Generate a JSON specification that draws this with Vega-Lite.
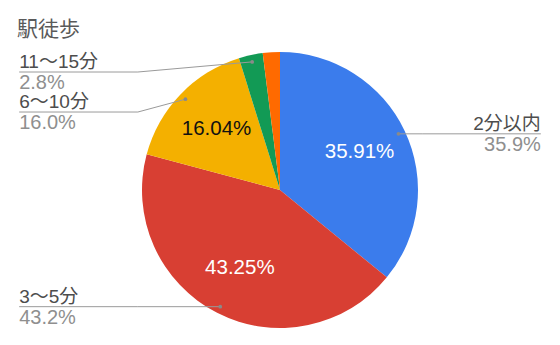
{
  "$schema": "https://vega.github.io/schema/vega-lite/v6.json",
  "width": 560,
  "height": 345,
  "padding": 0,
  "autosize": {"type": "none"},
  "background": "white",
  "config": {"view": {"stroke": null}, "font": "Liberation Sans, Noto Sans CJK JP"},
  "title": {"text": "駅徒歩", "anchor": "start", "frame": "group", "offset": 0, "baseline": "alphabetic", "dx": 17, "dy": 57, "fontSize": 21, "fontWeight": "normal", "color": "#5a5a5a", "font": "Noto Sans CJK JP"},
  "data": {"values": [
    {"i": 1, "cat": "2分以内", "value": 35.91},
    {"i": 2, "cat": "3〜5分", "value": 43.246},
    {"i": 3, "cat": "6〜10分", "value": 16.04},
    {"i": 4, "cat": "11〜15分", "value": 2.8},
    {"i": 5, "cat": "16分以上", "value": 2.004}
  ]},
  "transform": [
    {"window": [{"op": "sum", "field": "value", "as": "cum"}], "sort": [{"field": "i", "order": "ascending"}], "frame": [null, 0]},
    {"joinaggregate": [{"op": "sum", "field": "value", "as": "total"}]},
    {"calculate": "(datum.cum - datum.value / 2) / datum.total * 2 * PI", "as": "mid"},
    {"calculate": "0.95 * sin(datum.mid)", "as": "dotX"},
    {"calculate": "0.95 * cos(datum.mid)", "as": "dotY"},
    {"calculate": "datum.dotX > 0 ? 1 : -1", "as": "side"},
    {"calculate": "format(datum.value, '.1f') + '%'", "as": "share"},
    {"calculate": "datum.value > 5 ? format(datum.value, '.2f') + '%' : ''", "as": "inner"}
  ],
  "layer": [
    {
      "mark": {"type": "arc", "outerRadius": 138},
      "encoding": {
        "theta": {"field": "value", "type": "quantitative", "stack": true},
        "order": {"field": "i", "type": "quantitative"},
        "color": {"field": "cat", "type": "nominal", "legend": null,
          "scale": {"domain": ["2分以内", "3〜5分", "6〜10分", "11〜15分", "16分以上"],
                    "range": ["#3b7cec", "#d83f33", "#f4b000", "#129a55", "#ff6a00"]}},
        "x": {"datum": 0, "type": "quantitative", "axis": null, "scale": {"domain": [-2.029, 2.029], "nice": false, "zero": false}},
        "y": {"datum": 0, "type": "quantitative", "axis": null, "scale": {"domain": [-1.1232, 1.3768], "nice": false, "zero": false}}
      }
    },
    {
      "mark": {"type": "text", "radius": 88, "fontSize": 20.5, "font": "Liberation Sans"},
      "encoding": {
        "theta": {"field": "value", "type": "quantitative", "stack": true},
        "order": {"field": "i", "type": "quantitative"},
        "detail": {"field": "cat", "type": "nominal"},
        "text": {"field": "inner", "type": "nominal"},
        "color": {"condition": {"test": "datum.i == 3", "value": "#111111"}, "value": "#ffffff"},
        "x": {"datum": 0, "type": "quantitative", "axis": null, "scale": {"domain": [-2.029, 2.029], "nice": false, "zero": false}},
        "y": {"datum": 0, "type": "quantitative", "axis": null, "scale": {"domain": [-1.1232, 1.3768], "nice": false, "zero": false}}
      }
    },
    {
      "transform": [
        {"filter": "datum.value > 2.5"},
        {"window": [{"op": "row_number", "as": "r"}], "groupby": ["side"], "sort": [{"field": "dotY", "order": "descending"}]},
        {"calculate": "(datum.r == 1 ? min(datum.dotY, 0.855) : datum.dotY) + 0.29 * datum.r", "as": "w"},
        {"window": [{"op": "min", "field": "w", "as": "wm"}], "groupby": ["side"], "sort": [{"field": "dotY", "order": "descending"}], "frame": [null, 0]},
        {"calculate": "datum.wm - 0.29 * datum.r", "as": "lineY"},
        {"calculate": "1.03 * datum.side", "as": "elbowX"},
        {"calculate": "1.89 * datum.side", "as": "endX"}
      ],
      "layer": [
        {
          "mark": {"type": "rule", "color": "#9a9a9a", "strokeWidth": 1},
          "encoding": {
            "x": {"field": "dotX", "type": "quantitative", "axis": null, "scale": {"domain": [-2.029, 2.029], "nice": false, "zero": false}},
            "y": {"field": "dotY", "type": "quantitative", "axis": null, "scale": {"domain": [-1.1232, 1.3768], "nice": false, "zero": false}},
            "x2": {"field": "elbowX"},
            "y2": {"field": "lineY"}
          }
        },
        {
          "mark": {"type": "rule", "color": "#9a9a9a", "strokeWidth": 1},
          "encoding": {
            "x": {"field": "elbowX", "type": "quantitative", "axis": null, "scale": {"domain": [-2.029, 2.029], "nice": false, "zero": false}},
            "y": {"field": "lineY", "type": "quantitative", "axis": null, "scale": {"domain": [-1.1232, 1.3768], "nice": false, "zero": false}},
            "x2": {"field": "endX"},
            "y2": {"field": "lineY"}
          }
        },
        {
          "mark": {"type": "circle", "size": 14, "color": "#8a8a8a", "opacity": 1},
          "encoding": {
            "x": {"field": "dotX", "type": "quantitative", "axis": null, "scale": {"domain": [-2.029, 2.029], "nice": false, "zero": false}},
            "y": {"field": "dotY", "type": "quantitative", "axis": null, "scale": {"domain": [-1.1232, 1.3768], "nice": false, "zero": false}}
          }
        },
        {
          "transform": [{"filter": "datum.side < 0"}],
          "layer": [
            {
              "mark": {"type": "text", "align": "left", "baseline": "alphabetic", "dy": -4, "fontSize": 19, "color": "#4d4d4d"},
              "encoding": {
                "x": {"field": "endX", "type": "quantitative", "axis": null, "scale": {"domain": [-2.029, 2.029], "nice": false, "zero": false}},
                "y": {"field": "lineY", "type": "quantitative", "axis": null, "scale": {"domain": [-1.1232, 1.3768], "nice": false, "zero": false}},
                "text": {"field": "cat", "type": "nominal"}
              }
            },
            {
              "mark": {"type": "text", "align": "left", "baseline": "top", "dy": 1, "fontSize": 20, "color": "#8f8f8f"},
              "encoding": {
                "x": {"field": "endX", "type": "quantitative", "axis": null, "scale": {"domain": [-2.029, 2.029], "nice": false, "zero": false}},
                "y": {"field": "lineY", "type": "quantitative", "axis": null, "scale": {"domain": [-1.1232, 1.3768], "nice": false, "zero": false}},
                "text": {"field": "share", "type": "nominal"}
              }
            }
          ]
        },
        {
          "transform": [{"filter": "datum.side > 0"}],
          "layer": [
            {
              "mark": {"type": "text", "align": "right", "baseline": "alphabetic", "dy": -4, "fontSize": 19, "color": "#4d4d4d"},
              "encoding": {
                "x": {"field": "endX", "type": "quantitative", "axis": null, "scale": {"domain": [-2.029, 2.029], "nice": false, "zero": false}},
                "y": {"field": "lineY", "type": "quantitative", "axis": null, "scale": {"domain": [-1.1232, 1.3768], "nice": false, "zero": false}},
                "text": {"field": "cat", "type": "nominal"}
              }
            },
            {
              "mark": {"type": "text", "align": "right", "baseline": "top", "dy": 1, "fontSize": 20, "color": "#8f8f8f"},
              "encoding": {
                "x": {"field": "endX", "type": "quantitative", "axis": null, "scale": {"domain": [-2.029, 2.029], "nice": false, "zero": false}},
                "y": {"field": "lineY", "type": "quantitative", "axis": null, "scale": {"domain": [-1.1232, 1.3768], "nice": false, "zero": false}},
                "text": {"field": "share", "type": "nominal"}
              }
            }
          ]
        }
      ]
    }
  ]
}
